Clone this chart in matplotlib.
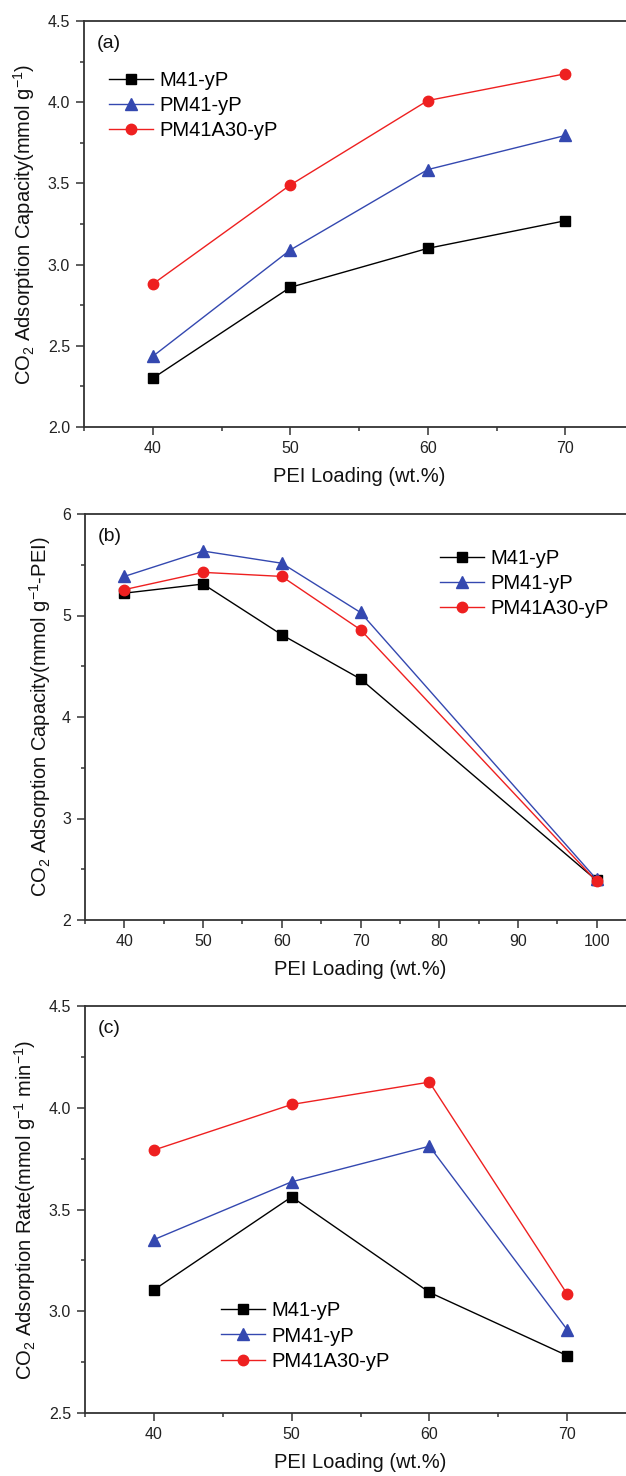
import matplotlib
matplotlib.use("Agg")
import matplotlib.pyplot as plt
from matplotlib.ticker import MultipleLocator

plt.rcParams['font.family'] = ['Liberation Sans', 'DejaVu Sans']
plt.rcParams['mathtext.fontset'] = 'custom'
plt.rcParams['mathtext.rm'] = 'Liberation Sans'
plt.rcParams['mathtext.it'] = 'Liberation Sans:italic'

series_names = ['M41-yP', 'PM41-yP', 'PM41A30-yP']

# (a) CO2 capacity per gram sorbent
loading_a = [40, 50, 60, 70]
m41_a = [2.30, 2.86, 3.10, 3.27]
pm41_a = [2.435, 3.09, 3.585, 3.795]
pm41a30_a = [2.88, 3.49, 4.01, 4.175]

# (b) CO2 capacity per gram PEI
loading_b = [40, 50, 60, 70, 100]
m41_b = [5.22, 5.31, 4.81, 4.375, 2.39]
pm41_b = [5.385, 5.635, 5.515, 5.03, 2.40]
pm41a30_b = [5.255, 5.425, 5.385, 4.86, 2.38]

# (c) adsorption rate
loading_c = [40, 50, 60, 70]
m41_c = [3.105, 3.562, 3.093, 2.782]
pm41_c = [3.352, 3.636, 3.811, 2.91]
pm41a30_c = [3.792, 4.016, 4.126, 3.085]

colors = ['black', '#3448b0', '#ee2020']
markers = ['s', '^', 'o']
msizes = [6.5, 8, 7.5]

fig = plt.figure(figsize=(6.26, 14.76), dpi=100)
W, H = 626.0, 1476.0


def make_axes(left, top, right, bottom):
    return fig.add_axes([left / W, 1 - bottom / H, (right - left) / W, (bottom - top) / H])


def style_axes(ax, xlim, xmajor, ylim, ymajor, yfmt):
    ax.set_xlim(*xlim)
    ax.set_ylim(*ylim)
    ax.xaxis.set_major_locator(MultipleLocator(xmajor))
    ax.xaxis.set_minor_locator(MultipleLocator(xmajor / 2))
    ax.yaxis.set_major_locator(MultipleLocator(ymajor))
    ax.yaxis.set_minor_locator(MultipleLocator(ymajor / 2))
    ax.yaxis.set_major_formatter(yfmt)
    ax.tick_params(which='major', direction='out', length=6, width=1.1, color='#333333',
                   labelsize=11.5, labelcolor='#222222', pad=4)
    ax.tick_params(which='minor', direction='out', length=3, width=1.1, color='#333333')
    ax.tick_params(top=False, right=False)
    for s in ax.spines.values():
        s.set_linewidth(1.3)
        s.set_color('#333333')
    ax.set_xlabel('PEI Loading (wt.%)', fontsize=14.5, color='#111111', labelpad=8)


def draw(ax, x, ys, legend_anchor, tag):
    for y, name, c, m, ms in zip(ys, series_names, colors, markers, msizes):
        ax.plot(x, y, color=c, marker=m, markersize=ms, linewidth=1.0, label=name)
    ax.legend(loc='upper left', bbox_to_anchor=legend_anchor, frameon=False, fontsize=14.5,
              handlelength=2.2, handletextpad=0.3, labelspacing=0.3, borderpad=0,
              borderaxespad=0)
    ax.text(0.024, 0.945, tag, transform=ax.transAxes, fontsize=14, va='center', ha='left',
            color='#111111')


ax1 = make_axes(84, 21, 634, 427)
style_axes(ax1, (35, 75), 10, (2.0, 4.5), 0.5, '{x:.1f}')
draw(ax1, loading_a, [m41_a, pm41_a, pm41a30_a], (0.045, 0.876), '(a)')
ax1.set_ylabel(r'CO$_\mathregular{2}$ Adsorption Capacity(mmol g$^\mathregular{-1}$)',
               fontsize=14.5, color='#111111')
ax1.yaxis.set_label_coords(-0.085, 0.5)

ax2 = make_axes(85, 514, 636, 920)
style_axes(ax2, (35, 105), 10, (2, 6), 1, '{x:.0f}')
draw(ax2, loading_b, [m41_b, pm41_b, pm41a30_b], (0.644, 0.914), '(b)')
ax2.set_ylabel(r'CO$_\mathregular{2}$ Adsorption Capacity(mmol g$^\mathregular{-1}$-PEI)',
               fontsize=14.5, color='#111111')
ax2.yaxis.set_label_coords(-0.058, 0.5)

ax3 = make_axes(85, 1006, 636, 1413)
style_axes(ax3, (35, 75), 10, (2.5, 4.5), 0.5, '{x:.1f}')
draw(ax3, loading_c, [m41_c, pm41_c, pm41a30_c], (0.247, 0.274), '(c)')
ax3.set_ylabel(r'CO$_\mathregular{2}$ Adsorption Rate(mmol g$^\mathregular{-1}$ min$^\mathregular{-1}$)',
               fontsize=14.5, color='#111111')
ax3.yaxis.set_label_coords(-0.085, 0.5)

plt.savefig('out.png', dpi=100)
plt.close()
